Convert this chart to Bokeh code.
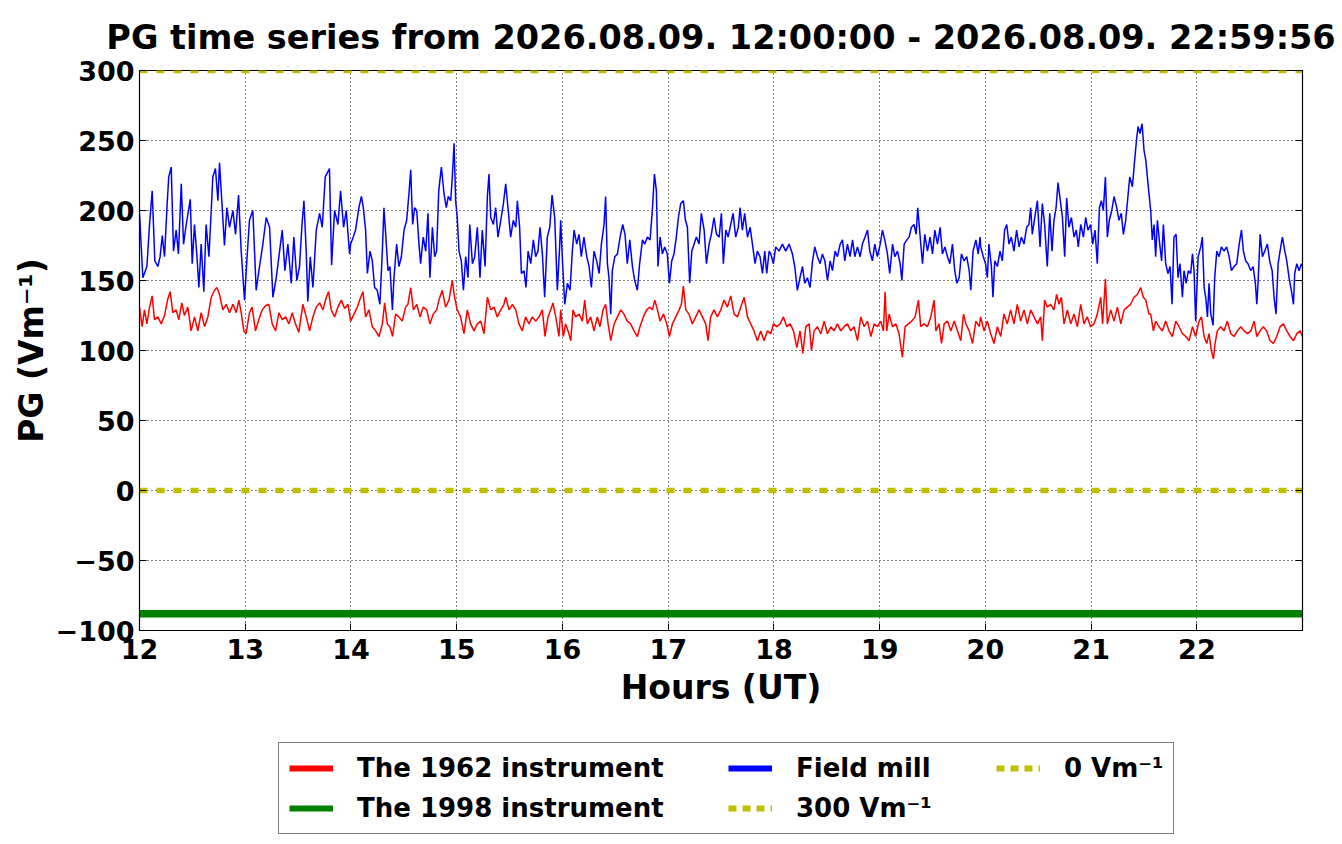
from bokeh.plotting import figure
from bokeh.layouts import column
from bokeh.models import Range1d, FixedTicker, Legend, LegendItem, CustomJSTickFormatter, LinearAxis
from bokeh.embed import file_html
from bokeh.resources import INLINE

# ---------------- data (minutes after 12:00:00 UT, PG in V/m) ----------------
fm_minutes = [
 0,1.9,4.2,5.7,7.2,8.7,10.4,11.7,12.9,14.2,15.7,16.6,18.0,19.3,20.8,22.1,23.7,25.0,26.5,27.8,28.8,29.9,31.2,32.5,33.7,35.0,36.5,37.8,39.4,40.7,41.6,43.1,44.5,45.4,46.7,48.2,49.6,51.1,53.0,54.5,56.2,57.7,59.6,60.9,62.4,64.3,66.2,68.1,70.0,71.9,73.8,75.7,77.6,79.5,81.0,82.5,84.2,86.1,87.6,89.3,90.8,92.1,93.3,94.6,95.5,96.9,98.4,100.3,102.2,103.7,105.4,107.8,109.0,110.7,112.6,114.1,115.8,117.3,119.2,
 119.8,121.3,122.6,124.5,125.9,127.0,128.3,129.3,130.8,132.1,133.4,134.9,136.4,137.8,138.7,139.9,141.0,142.1,143.5,144.4,145.9,147.2,148.6,150.1,151.6,152.9,153.9,155.0,156.1,157.3,158.6,159.5,161.0,162.4,163.7,164.8,166.2,167.5,168.6,169.8,171.3,172.8,174.1,175.2,176.6,177.5,178.5,179.4,180.3,181.3,182.6,183.8,185.1,186.4,187.4,188.9,190.2,191.7,193.2,194.5,196.1,197.4,198.3,199.3,200.8,202.1,203.4,205.0,206.5,207.8,209.1,210.6,212.1,213.5,214.4,215.7,216.7,218.2,219.3,220.5,222.0,223.5,224.8,226.1,227.3,228.6,229.9,231.4,232.8,234.1,235.6,237.1,238.4,
 239.0,239.9,241.3,242.8,244.3,245.6,246.6,248.1,249.4,250.7,252.2,253.8,255.1,256.4,257.9,259.4,260.8,262.1,263.6,264.5,265.5,266.4,267.4,268.3,269.7,271.2,272.7,274.2,275.5,276.8,278.2,279.7,281.0,282.5,283.8,285.4,286.7,288.2,289.7,291.0,292.2,293.3,294.2,295.4,296.7,298.0,299.5,300.7,302.0,303.3,304.6,305.8,307.1,308.6,309.8,310.9,312.2,313.4,314.7,316.0,317.5,318.8,320.4,321.7,323.2,324.5,326.0,327.4,328.9,330.2,331.3,332.7,334.0,335.5,336.8,338.3,339.8,340.8,342.1,343.4,345.0,346.5,347.8,349.3,350.6,352.1,353.5,354.8,355.9,357.3,
 358.2,359.7,361.0,362.9,364.8,366.7,368.6,370.5,371.8,373.3,374.8,376.2,377.5,379.0,380.5,381.9,383.2,384.7,386.2,387.5,388.9,390.4,391.9,393.2,394.7,396.0,397.6,398.9,400.2,401.7,403.2,404.6,405.9,407.4,408.9,410.2,411.7,413.1,414.4,415.9,417.2,418.7,420.3,421.6,422.9,424.4,425.7,427.3,428.6,430.1,431.6,432.6,433.9,435.4,436.7,438.0,439.5,440.7,441.6,443.0,444.3,445.6,447.1,448.6,450.0,451.3,452.8,454.3,455.6,457.0,458.5,459.8,461.3,462.6,463.8,465.1,466.4,467.9,469.4,470.8,471.7,473.0,474.6,475.9,477.0,
 477.3,478.8,480.1,481.1,482.0,483.4,484.3,485.3,486.8,488.3,489.6,490.9,492.1,493.4,494.7,496.2,497.7,499.1,500.4,501.9,503.4,504.7,505.7,506.6,508.0,509.5,511.0,512.3,513.6,515.1,516.5,517.8,518.9,520.1,521.2,522.3,523.7,525.0,526.1,527.4,528.8,530.3,531.6,532.7,534.1,535.6,536.9,538.2,539.7,540.9,542.2,543.5,544.7,545.8,546.9,548.1,549.2,550.3,551.7,553.0,554.5,555.8,557.1,558.3,559.6,560.5,561.9,563.4,564.7,565.7,566.6,567.7,568.9,570.0,571.0,571.9,572.8,
 573.8,574.7,575.7,576.6,577.6,578.9,580.0,581.0,582.3,583.6,584.8,585.9,587.0,588.2,589.3,590.4,591.8,592.7,593.9,595.2,596.5,597.5,598.4,599.3,600.7,602.2,603.1,604.1,605.0,606.0,606.9,607.9,609.2,610.1,611.3,612.6,613.9,615.4,616.9,618.3,619.6,621.1,622.6,624.0,625.3,626.4,627.7,629.0,630.6,631.9,633.2,634.0,634.7,635.9,637.2,638.5,640.0,641.3,642.7,643.8,644.9,646.1,647.2,648.5,649.9,651.0,652.3,653.6,654.8,655.5,656.7,658.0,659.3,659.9]
fm_values = [
 198,152,160,190,214,164,160,167,182,167,205,224,231,171,186,169,219,176,190,200,208,162,190,169,145,176,142,190,167,200,224,230,207,234,207,175,202,188,200,183,211,171,136,164,193,200,143,160,176,195,188,138,152,171,186,157,176,148,181,150,160,188,207,171,135,167,145,186,198,188,224,230,161,200,190,214,188,200,169,
 176,181,186,202,210,202,186,155,171,164,145,143,133,171,202,179,157,160,129,152,176,160,167,186,193,212,229,190,202,200,176,162,181,171,198,152,188,167,171,214,231,212,202,210,207,224,248,207,195,171,164,143,167,152,190,162,167,188,152,186,160,210,226,195,190,202,181,193,205,219,202,181,193,188,207,188,155,157,145,171,162,179,167,171,188,169,138,181,188,211,195,143,174,
 193,167,133,148,143,171,186,176,183,167,181,167,160,145,171,164,155,176,190,210,162,152,126,157,167,169,181,190,183,162,179,160,150,143,162,179,176,181,179,200,226,214,160,181,169,174,169,148,164,169,181,195,205,207,193,188,148,171,176,181,176,198,186,162,176,183,195,183,181,198,162,186,181,190,198,181,188,202,186,198,181,188,176,162,171,167,155,171,155,171,
 169,162,174,171,176,171,176,169,160,143,152,160,148,152,145,164,174,167,162,169,164,150,164,157,171,167,176,179,164,176,167,179,167,174,167,176,181,186,171,164,176,167,176,186,179,169,155,176,167,171,162,150,176,179,181,188,190,183,202,181,162,183,171,181,169,186,176,188,169,174,167,162,176,157,148,152,169,164,167,157,143,171,179,169,181,
 174,167,162,152,176,160,138,164,160,171,164,186,190,176,181,171,186,174,181,176,188,190,202,183,195,207,174,205,190,160,198,171,193,202,220,209,195,167,209,188,195,181,186,174,190,181,195,186,190,176,186,162,202,207,200,224,181,193,200,210,202,193,198,183,193,205,224,217,236,250,260,255,262,243,236,224,212,
 200,179,190,167,193,176,164,190,162,155,160,133,181,183,152,162,138,157,148,157,155,169,157,121,167,174,181,145,138,124,148,126,118,152,171,167,174,171,174,167,157,160,162,176,186,171,164,162,157,160,148,133,148,183,167,171,176,164,157,138,126,162,171,181,171,164,152,143,133,155,162,157,162,160]

r62_minutes = [
 0,1.5,2.8,4.2,5.7,7.2,8.5,10.4,12.3,14.2,16.1,17.4,18.9,20.8,22.3,24.0,25.5,27.4,29.3,31.2,33.1,35.0,36.9,38.8,40.7,42.6,43.9,45.4,47.3,49.2,51.1,53.0,54.9,56.4,57.7,59.2,60.5,62.4,63.9,65.8,67.7,69.6,71.5,73.4,75.3,77.2,79.1,81.0,82.9,84.8,86.7,88.5,90.4,92.7,94.6,96.5,98.4,100.3,102.2,104.1,106.0,107.3,108.8,110.7,112.6,114.5,116.4,118.3,
 119.8,121.7,123.6,125.5,126.8,128.3,130.2,132.1,134.0,135.9,137.8,139.1,140.6,142.1,143.6,145.3,147.2,149.1,151.0,152.3,153.9,155.4,157.3,159.2,161.0,163.0,164.8,166.7,168.6,169.9,171.8,173.7,175.6,177.5,178.8,180.3,182.2,184.1,186.0,187.9,189.8,191.7,193.6,195.5,197.4,199.3,201.2,203.0,205.0,206.8,207.8,209.7,211.6,213.5,215.3,217.2,219.1,221.0,222.9,224.8,226.7,228.6,230.1,231.8,233.3,234.6,236.2,238.0,
 239.0,240.5,241.8,243.2,244.7,246.0,247.5,249.4,251.3,252.6,254.1,256.0,257.9,259.8,261.3,263.0,264.5,265.9,267.4,269.3,271.2,273.1,274.9,276.8,278.7,280.6,282.5,284.0,285.9,287.8,289.7,291.0,292.4,293.9,295.4,297.3,299.2,300.7,302.4,304.3,306.2,307.5,308.6,310.0,311.8,313.7,315.6,317.5,319.4,321.3,322.6,324.1,326.0,327.9,329.8,331.7,333.6,335.5,337.4,339.3,341.2,343.1,345.0,346.8,348.7,350.6,352.5,354.4,356.3,
 358.2,359.7,361.6,363.5,365.4,367.3,369.2,371.1,373.0,374.8,376.4,378.1,380.0,381.3,382.8,384.7,386.6,388.5,390.4,392.3,394.1,396.0,397.9,399.8,401.7,403.6,405.5,407.4,409.3,411.2,413.1,415.0,416.9,418.7,420.6,422.1,423.1,424.0,425.4,427.3,429.2,431.0,432.9,434.4,436.3,438.2,440.1,442.0,443.3,445.2,447.1,449.0,450.9,451.9,453.7,455.1,456.6,458.5,460.4,462.3,464.2,466.0,467.6,468.9,470.8,472.7,474.6,476.5,
 477.3,479.2,481.1,483.0,484.9,486.8,488.7,490.5,492.4,494.3,496.2,498.1,500.0,501.9,503.8,505.7,507.6,509.5,511.4,512.3,513.6,515.1,517.0,518.9,520.4,521.8,523.1,524.6,526.5,528.4,530.3,532.2,534.1,535.9,537.8,539.7,541.6,543.5,545.4,546.5,548.1,549.2,551.1,553.0,554.9,556.8,558.7,560.5,562.4,564.3,566.2,568.1,569.6,571.0,572.8,
 573.8,575.3,576.6,578.5,580.4,582.3,584.2,586.1,588.0,589.9,591.8,593.7,595.6,597.5,599.3,601.2,602.6,604.1,605.6,606.9,608.2,609.4,610.3,611.6,613.5,615.4,617.3,619.2,621.1,623.0,624.9,626.8,628.7,630.6,632.5,634.0,635.9,637.7,639.6,641.5,643.4,645.3,647.2,649.1,651.0,652.9,654.8,656.7,658.6,659.9]
r62_values = [
 131,117,129,119,131,139,122,124,119,125,137,142,127,129,122,134,125,131,114,124,114,127,117,124,138,143,145,140,129,133,127,133,127,136,127,114,112,127,131,114,122,129,132,133,119,114,127,122,124,119,127,119,113,133,124,114,124,131,134,129,138,142,129,124,131,136,130,133,
 121,126,131,138,142,124,129,117,114,110,119,134,119,117,110,126,124,121,131,133,145,129,133,124,131,129,119,126,129,136,143,131,136,150,138,129,124,112,129,119,114,119,121,112,138,129,131,124,129,133,138,129,133,129,119,114,124,119,124,121,124,129,110,124,129,134,124,110,
 129,110,119,114,107,129,124,126,121,136,119,124,114,124,117,129,133,119,107,119,124,129,126,121,119,114,110,117,124,129,131,129,136,129,121,126,119,110,119,124,129,133,146,129,126,119,124,129,124,119,107,124,129,124,129,136,131,139,126,124,131,138,124,119,114,107,114,107,114,
 112,119,117,119,124,117,119,114,102,114,98,117,119,100,114,117,112,121,112,117,114,119,114,117,119,114,117,107,124,117,121,110,119,117,121,114,142,114,126,117,119,112,95,117,119,121,124,136,117,119,117,124,136,114,119,105,119,121,114,121,114,107,126,119,114,105,121,117,
 124,114,121,112,105,117,110,126,119,129,119,133,121,129,119,129,124,119,124,107,136,131,133,129,140,133,138,119,129,119,126,117,133,119,124,117,119,126,138,119,151,119,129,121,131,119,129,131,133,138,140,145,138,136,126,
 126,114,121,117,114,121,114,110,121,117,112,110,107,117,110,121,124,110,105,112,100,94,105,114,117,114,121,112,110,114,117,114,112,114,121,110,114,117,114,107,105,110,117,119,114,110,107,112,114,110]

r98_minutes = [0, 659.93]
r98_values = [-88, -88]
ref_levels = [300, 0]
span_minutes = [0, 659.93]

x_ticks = [12, 13, 14, 15, 16, 17, 18, 19, 20, 21, 22]
y_ticks = [-100, -50, 0, 50, 100, 150, 200, 250, 300]

title_text = "PG time series from 2026.08.09. 12:00:00 - 2026.08.09. 22:59:56"
legend_labels = ["The 1962 instrument", "The 1998 instrument", "Field mill",
                 "300 Vm\u207b\u00b9", "0 Vm\u207b\u00b9"]

def hrs(m):
    return [12 + v / 60.0 for v in m]

FONT = "DejaVu Sans"
YEL = "#bfbf00"
RED, GREEN, BLUE = "#ff0000", "#008000", "#0000ff"
W = 1342

# ---------------- main plot ----------------
p = figure(width=W, height=720, output_backend="svg", toolbar_location=None,
           x_range=Range1d(12, 12 + 659.93 / 60.0), y_range=Range1d(-100, 300),
           min_border_left=139, min_border_right=40, min_border_top=70, min_border_bottom=90,
           background_fill_color="white", border_fill_color="white")

p.title.text = title_text
p.title.text_font = FONT
p.title.text_font_size = "33.5px"
p.title.text_font_style = "bold"
p.title.align = "center"
p.title.text_color = "black"
p.title.standoff = 28

p.outline_line_color = "black"
p.outline_line_width = 1.2

p.line(hrs(r62_minutes), r62_values, line_color=RED, line_width=1.5)
p.line(hrs(r98_minutes), r98_values, line_color=GREEN, line_width=7.5)
p.line(hrs(fm_minutes), fm_values, line_color=BLUE, line_width=1.5)
p.line(hrs(span_minutes), [ref_levels[0]] * 2, line_color=YEL, line_width=5.5, line_dash="8 9")
p.line(hrs(span_minutes), [ref_levels[1]] * 2, line_color=YEL, line_width=5.5, line_dash="8 9")

for ax in (p.xaxis[0], p.yaxis[0]):
    ax.major_label_text_font = FONT
    ax.major_label_text_font_size = "27px"
    ax.major_label_text_font_style = "bold"
    ax.major_label_text_color = "black"
    ax.axis_label_text_font = FONT
    ax.axis_label_text_font_size = "33px"
    ax.axis_label_text_font_style = "bold"
    ax.axis_label_text_color = "black"
    ax.major_tick_in = 7
    ax.major_tick_out = 0
    ax.minor_tick_line_color = None
    ax.axis_line_color = "black"
    ax.major_tick_line_color = "black"

p.xaxis[0].ticker = FixedTicker(ticks=x_ticks)
p.yaxis[0].ticker = FixedTicker(ticks=y_ticks)
p.yaxis[0].formatter = CustomJSTickFormatter(code="return (tick < 0 ? '\\u2212' : '') + Math.abs(tick).toFixed(0);")
p.xaxis[0].axis_label = "Hours (UT)"
p.yaxis[0].axis_label = "PG (Vm\u207b\u00b9)"
p.xaxis[0].major_label_standoff = 8
p.yaxis[0].major_label_standoff = 5
p.xaxis[0].axis_label_standoff = 6
p.yaxis[0].axis_label_standoff = 2

# mirrored ticks on the right side
blank = CustomJSTickFormatter(code="return '';")
ax_right = LinearAxis(ticker=FixedTicker(ticks=y_ticks), formatter=blank, major_tick_in=7, major_tick_out=0,
                      minor_tick_line_color=None, major_label_standoff=0)
p.add_layout(ax_right, "right")

p.grid.grid_line_color = "black"
p.grid.grid_line_dash = "1 3"
p.grid.grid_line_width = 1
p.xgrid.ticker = FixedTicker(ticks=x_ticks)
p.ygrid.ticker = FixedTicker(ticks=y_ticks)

# ---------------- legend strip ----------------
q = figure(width=W, height=116, output_backend="svg", toolbar_location=None,
           x_range=Range1d(-1000, -999), y_range=Range1d(-1000, -999),
           min_border_left=0, min_border_right=0, min_border_top=0, min_border_bottom=0,
           background_fill_color="white", border_fill_color="white")
q.axis.visible = False
q.grid.visible = False
q.outline_line_color = None

# legend samples: same series, drawn outside this strip's visible range
lg_red = q.line(hrs(r62_minutes), r62_values, line_color=RED, line_width=6)
lg_green = q.line(hrs(r98_minutes), r98_values, line_color=GREEN, line_width=6)
lg_blue = q.line(hrs(fm_minutes), fm_values, line_color=BLUE, line_width=6)
lg_y300 = q.line(hrs(span_minutes), [ref_levels[0]] * 2, line_color=YEL, line_width=6, line_dash="8 6")
lg_y0 = q.line(hrs(span_minutes), [ref_levels[1]] * 2, line_color=YEL, line_width=6, line_dash="8 6")

NB = "\u00a0" * 6
legend = Legend(items=[
    LegendItem(label=legend_labels[0] + NB, renderers=[lg_red]),
    LegendItem(label=legend_labels[1] + NB, renderers=[lg_green]),
    LegendItem(label=legend_labels[2] + NB, renderers=[lg_blue]),
    LegendItem(label=legend_labels[3] + NB, renderers=[lg_y300]),
    LegendItem(label=legend_labels[4], renderers=[lg_y0]),
], orientation="vertical", nrows=2, location=(139, 2))
legend.label_text_font = FONT
legend.label_text_font_size = "26px"
legend.label_text_font_style = "bold"
legend.label_text_color = "black"
legend.glyph_width = 44
legend.glyph_height = 30
legend.label_standoff = 24
legend.spacing = 10
legend.padding = 10
legend.margin = 0
legend.border_line_color = "black"
legend.border_line_width = 1.2
legend.background_fill_color = "white"
legend.background_fill_alpha = 1
q.add_layout(legend, "center")

layout = column(p, q, spacing=0)
open("out.html", "w").write(file_html(layout, INLINE))
